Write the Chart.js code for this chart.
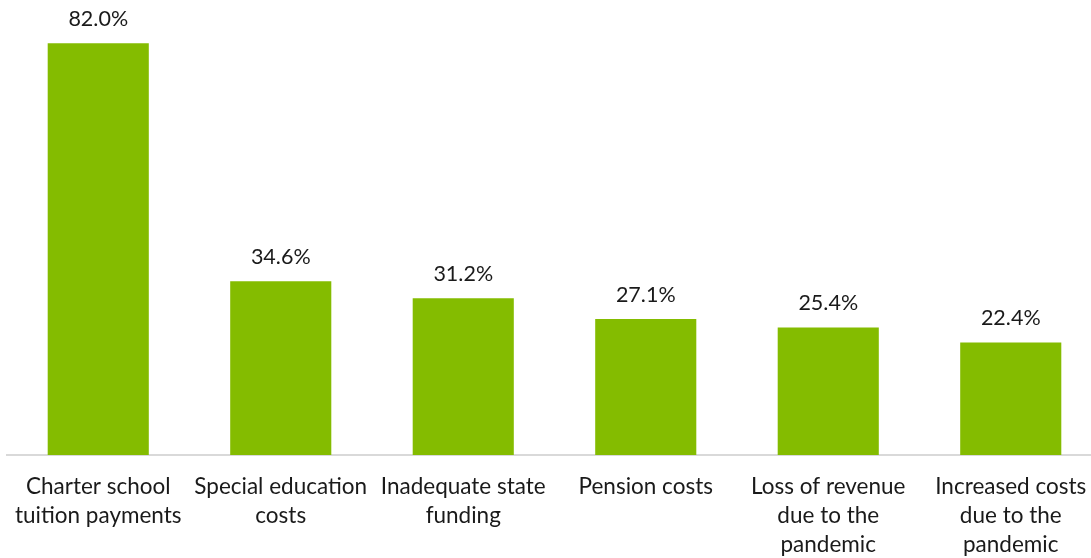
<!DOCTYPE html>
<html>
<head>
<meta charset="utf-8">
<script src="https://cdn.jsdelivr.net/npm/chart.js@4/dist/chart.umd.min.js"></script>
<style>
  html, body { margin: 0; padding: 0; background: #fff; overflow: hidden; }
  #wrap { width: 1102px; height: 558px; position: relative; }
</style>
</head>
<body>
<div id="wrap"><canvas id="chart"></canvas></div>
<script>
// data
const categories = [
    ["Charter school", "tuition payments"],
    ["Special education", "costs"],
    ["Inadequate state", "funding"],
    ["Pension costs"],
    ["Loss of revenue", "due to the", "pandemic"],
    ["Increased costs", "due to the", "pandemic"]
];
const shares = [82.0, 34.6, 31.2, 27.1, 25.4, 22.4];

const FONT = "Lato, 'Open Sans', sans-serif";

// value labels above the bars
const valueLabels = {
    id: "valueLabels",
    afterDatasetsDraw(chart) {
        const ctx = chart.ctx;
        const meta = chart.getDatasetMeta(0);
        ctx.save();
        ctx.font = "21.5px " + FONT;
        ctx.fillStyle = "#1a1a1a";
        ctx.textAlign = "center";
        ctx.textBaseline = "middle";
        meta.data.forEach((bar, i) => {
            ctx.fillText(shares[i].toFixed(1) + "%", bar.x, bar.y - 24);
        });
        ctx.restore();
    }
};

new Chart(document.getElementById("chart"), {
    type: "bar",
    data: {
        labels: categories,
        datasets: [{
            data: shares,
            backgroundColor: "#84BC00",
            barPercentage: 0.554,
            categoryPercentage: 1.0
        }]
    },
    options: {
        responsive: true,
        maintainAspectRatio: false,
        animation: false,
        layout: { padding: { left: 7, right: 0, top: 3, bottom: 0 } },
        plugins: {
            legend: { display: false },
            tooltip: { enabled: false }
        },
        scales: {
            y: {
                display: false,
                min: 0,
                max: 90
            },
            x: {
                grid: { display: false, drawTicks: false },
                border: { display: true, color: "#D9D9D9", width: 2 },
                ticks: {
                    color: "#1a1a1a",
                    font: { family: FONT, size: 22.5, lineHeight: 1.29 },
                    padding: 17,
                    maxRotation: 0,
                    autoSkip: false
                },
                afterFit(scale) {
                    scale.height = 103;
                    scale.paddingLeft = 0;
                    scale.paddingRight = 0;
                }
            }
        }
    },
    plugins: [valueLabels]
});
</script>
</body>
</html>
